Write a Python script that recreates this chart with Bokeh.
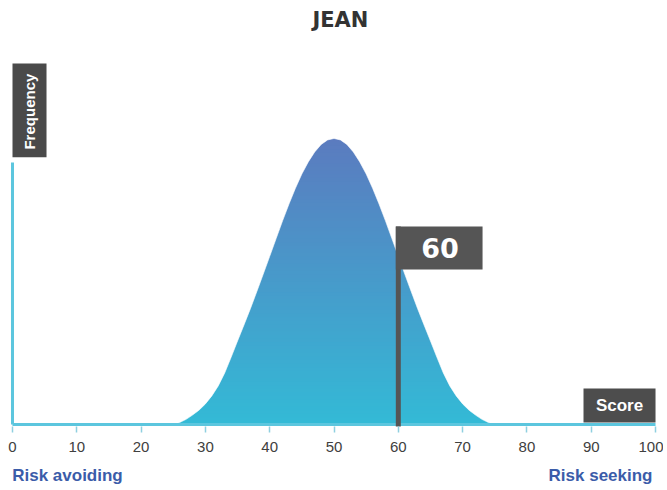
import numpy as np
from bokeh.plotting import figure
from bokeh.models import FixedTicker, LinearAxis, Range1d
from bokeh.core.properties import value
from bokeh.embed import file_html
from bokeh.resources import INLINE

# ---- data ----
title_text = "JEAN"
score_x = [25, 26, 27, 28, 29, 30, 31, 32, 33, 34, 35, 36, 37, 38, 39, 40, 41, 42, 43, 44, 45, 46, 47, 48, 49, 50,
           51, 52, 53, 54, 55, 56, 57, 58, 59, 60, 61, 62, 63, 64, 65, 66, 67, 68, 69, 70, 71, 72, 73, 74, 75]
frequency = [0.0, 0.007, 0.018, 0.033, 0.05, 0.072, 0.10, 0.135, 0.18, 0.235, 0.292, 0.348, 0.405, 0.465, 0.526,
             0.588, 0.650, 0.712, 0.771, 0.826, 0.876, 0.918, 0.953, 0.979, 0.995, 1.0,
             0.995, 0.979, 0.953, 0.918, 0.876, 0.826, 0.771, 0.712, 0.650, 0.588, 0.526, 0.465, 0.405, 0.348,
             0.292, 0.235, 0.18, 0.135, 0.10, 0.072, 0.05, 0.033, 0.018, 0.007, 0.0]
marker_score = 60
tick_values = [0, 10, 20, 30, 40, 50, 60, 70, 80, 90, 100]
end_labels = ["Risk avoiding", "Risk seeking"]
y_label = "Frequency"
x_label = "Score"

# ---- figure ----
p = figure(frame_width=663, frame_height=426, output_backend="svg", toolbar_location=None,
           x_range=Range1d(-1.866, 101.24), y_range=Range1d(-0.007, 1.4825),
           y_axis_location=None, min_border=0, min_border_left=0, min_border_right=0,
           min_border_top=0, min_border_bottom=0)
p.outline_line_color = None
p.grid.visible = False
p.background_fill_color = "white"
p.border_fill_color = "white"

# gradient bands under the curve
n_bands = 80
top_col = np.array([0x5b, 0x7b, 0xbf], dtype=float)
bot_col = np.array([0x33, 0xba, 0xd6], dtype=float)
lows = np.linspace(0, 1.0, n_bands, endpoint=False)
highs = lows + 1.0 / n_bands
cols = []
for lo in lows:
    t = lo + 0.5 / n_bands
    c = bot_col + (top_col - bot_col) * t
    cols.append("#%02x%02x%02x" % tuple(int(round(v)) for v in c))
xmin, xmax = min(score_x), max(score_x)
p.quad(left=[xmin] * n_bands, right=[xmax] * n_bands, bottom=list(lows),
       top=list(highs + 0.004), fill_color=cols, line_color=None)

# white mask above the curve
mask_x = [xmin - 0.5] + list(score_x) + [xmax + 0.5, xmax + 0.5, xmin - 0.5]
mask_y = [0.0] + list(frequency) + [0.0, 1.03, 1.03]
p.patch(mask_x, mask_y, fill_color="white", line_color="white", line_width=0.6)

# axes lines
p.line([0, 100], [0, 0], line_color="#5cc6de", line_width=3)
p.line([0, 0], [0, 0.916], line_color="#5cc6de", line_width=3)

# Frequency box
p.quad(left=[0], right=[5.29], bottom=[0.934], top=[1.262], fill_color="#4a4a4a", line_color=None)
p.text(x=[2.64], y=[1.094], text=[y_label], angle=np.pi / 2, text_align="center", text_baseline="middle",
       text_color="white", text_font=value("Liberation Sans"), text_font_style="bold", text_font_size="15px")

# Score box
p.quad(left=[88.8], right=[100], bottom=[0.007], top=[0.126], fill_color="#4d4d4d", line_color=None)
p.text(x=[94.4], y=[0.066], text=[x_label], text_align="center", text_baseline="middle",
       text_color="white", text_font=value("Liberation Sans"), text_font_style="bold", text_font_size="17px")

# marker pole + flag
p.segment(x0=[marker_score], y0=[-0.02], x1=[marker_score], y1=[0.692], line_color="#555555", line_width=5)
p.quad(left=[marker_score - 0.39], right=[73.1], bottom=[0.542], top=[0.692], fill_color="#555555", line_color=None)
p.text(x=[66.5], y=[0.617], text=[str(marker_score)], text_align="center", text_baseline="middle",
       text_color="white", text_font=value("DejaVu Sans"), text_font_style="bold", text_font_size="27px")

# title
p.text(x=[51.0], y=[1.416], text=[title_text], text_align="center", text_baseline="middle",
       text_color="#333333", text_font=value("DejaVu Sans"), text_font_style="bold", text_font_size="21px")

# x axis with ticks
ax = p.xaxis[0]
ax.ticker = FixedTicker(ticks=tick_values)
ax.axis_line_color = None
ax.major_tick_line_color = "#8fd0e0"
ax.major_tick_line_width = 1.5
ax.major_tick_in = 0
ax.major_tick_out = 6
ax.minor_tick_line_color = None
ax.major_label_standoff = 9
ax.major_label_text_font = "Liberation Sans"
ax.major_label_text_font_size = "15px"
ax.major_label_text_color = "#404040"

# second axis for the end labels
end_pos = [8.55, 91.45]
ax2 = LinearAxis(ticker=FixedTicker(ticks=end_pos),
                 major_label_overrides={end_pos[0]: end_labels[0], end_pos[1]: end_labels[1]})
ax2.axis_line_color = None
ax2.major_tick_line_color = None
ax2.minor_tick_line_color = None
ax2.major_tick_in = 0
ax2.major_tick_out = 0
ax2.major_label_standoff = 11
ax2.major_label_text_font = "Liberation Sans"
ax2.major_label_text_font_style = "bold"
ax2.major_label_text_font_size = "17px"
ax2.major_label_text_color = "#3b5ca9"
p.add_layout(ax2, "below")

open("out.html", "w").write(file_html(p, INLINE))
